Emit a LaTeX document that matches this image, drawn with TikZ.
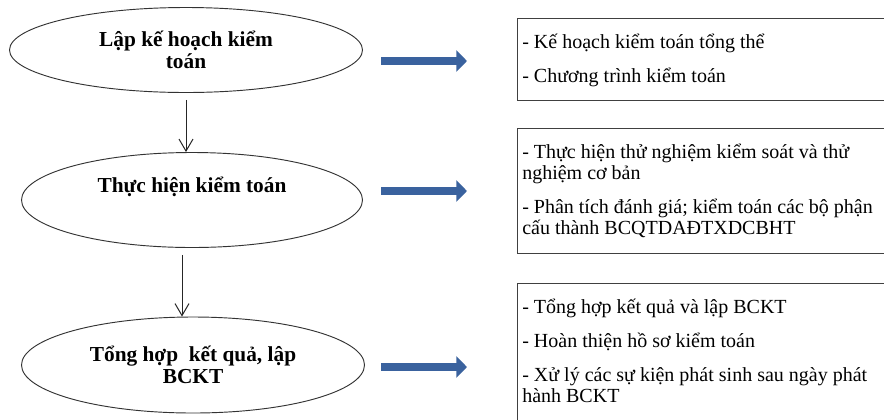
\documentclass[tikz,border=0pt]{standalone}
\usepackage{fontspec}
\setmainfont{Liberation Serif}
\usetikzlibrary{shapes.geometric, arrows.meta, positioning, calc}

\begin{document}
\begin{tikzpicture}[
    x=0.75pt, y=-0.75pt,
    >={Straight Barb[length=9pt,width=10.5pt]},
    stage/.style={draw=black!80, line width=0.7pt, ellipse, align=center, inner sep=0pt, font=\fontsize{16}{16.5}\selectfont\bfseries},
    outbox/.style={draw=black!75, line width=0.9pt, rectangle, anchor=north west, minimum width=300pt},
    outtext/.style={anchor=base west, align=left, inner sep=0pt, font=\fontsize{15}{15.75}\selectfont},
    flow/.style={->, line width=0.75pt, black!85},
    bluearrow/.style={-{Triangle[length=8pt,width=15.75pt]}, line width=6pt, draw={rgb,255:red,58;green,98;blue,158}}
  ]
  \clip (0,0) rectangle (884,419);
  % stages
  \node[stage, minimum width=264.75pt, minimum height=63.75pt] (plan) at (186,50) {Lập kế hoạch kiểm\\toán};
  \node[stage, minimum width=255.75pt, minimum height=71.25pt] (thuc) at (192,200) {Thực hiện kiểm toán\\[6pt]\mbox{}};
  \node[stage, minimum width=257.25pt, minimum height=72pt] (tong) at (193,365) {Tổng hợp~ kết quả, lập\\BCKT};
  \coordinate (p1) at ($(plan.south)+(0,7)$);
  \coordinate (p2) at ($(thuc.south)+(-10,7)$);
  \draw[flow] (p1) -- (p1 |- thuc.north);
  \draw[flow] (p2) -- (p2 |- tong.north);
  % outputs (text anchored at its last baseline)
  \node[outbox, minimum height=61.5pt] (khbox) at (517,18) {};
  \node[outtext] (khtext) at ($(khbox.north west)+(5,64)$)
    {- Kế hoạch kiểm toán tổng thể\\[9.75pt]
     - Chương trình kiểm toán};
  \node[outbox, minimum height=93.75pt] (thbox) at (517,128) {};
  \node[outtext] (thtext) at ($(thbox.north west)+(5,106)$)
    {- Thực hiện thử nghiệm kiểm soát và thử\\
     nghiệm cơ bản\\[9.75pt]
     - Phân tích đánh giá; kiểm toán các bộ phận\\
     cấu thành BCQTDAĐTXDCBHT};
  \node[outbox, minimum height=112.5pt] (tgbox) at (517,283) {};
  \node[outtext] (tgtext) at ($(tgbox.north west)+(5,119)$)
    {- Tổng hợp kết quả và lập BCKT\\[9.75pt]
     - Hoàn thiện hồ sơ kiểm toán\\[9.75pt]
     - Xử lý các sự kiện phát sinh sau ngày phát\\
     hành BCKT};
  % blue arrows
  \coordinate (a1) at (381,61);
  \coordinate (b1) at (467,61);
  \coordinate (a2) at (381,191);
  \coordinate (b2) at (467,191);
  \coordinate (a3) at (381,367);
  \coordinate (b3) at (467,367);
  \draw[bluearrow] (a1) -- (b1);
  \draw[bluearrow] (a2) -- (b2);
  \draw[bluearrow] (a3) -- (b3);
\end{tikzpicture}
\end{document}
